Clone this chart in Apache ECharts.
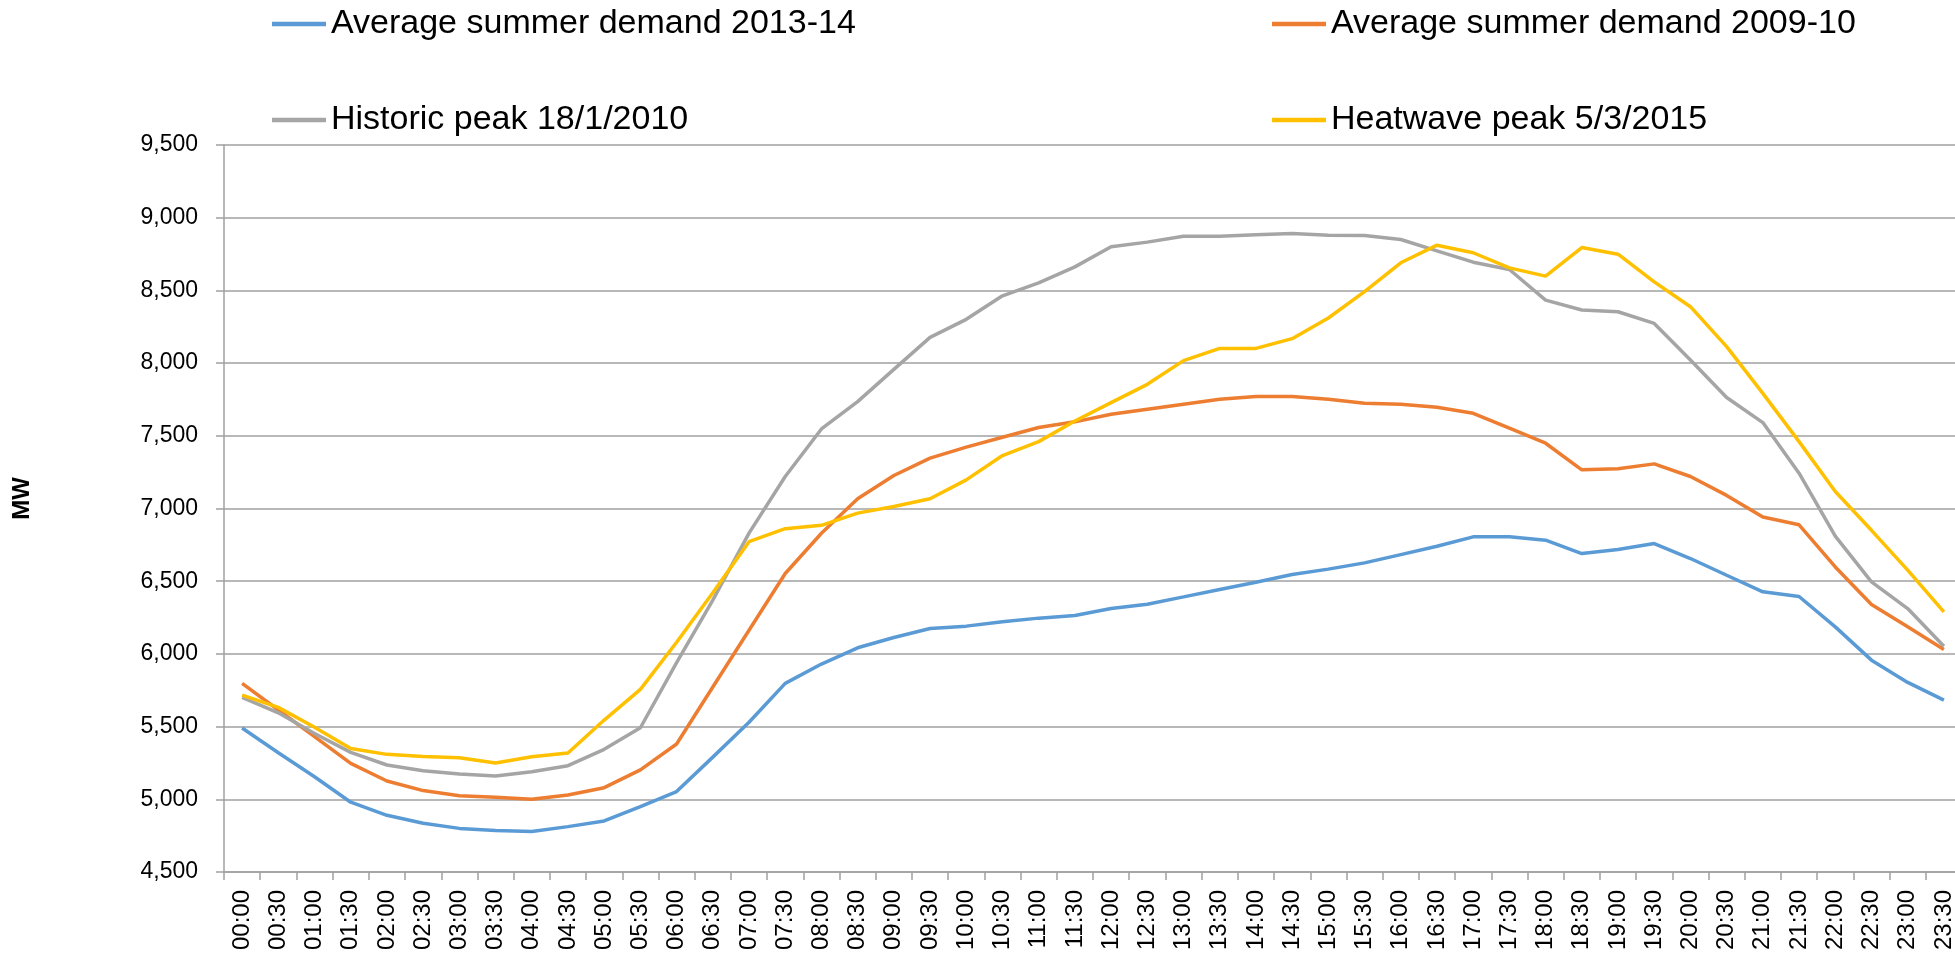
<!DOCTYPE html>
<html>
<head>
<meta charset="utf-8">
<title>Summer demand</title>
<script src="https://cdn.jsdelivr.net/npm/echarts@6/dist/echarts.min.js"></script>
<style>
	html, body { margin: 0; padding: 0; background: #fff; }
	#chartDiv { width: 1955px; height: 955px; }
</style>
</head>
<body>
<div id="chartDiv"></div>
<script>
// half-hour periods
var times = ['00:00', '00:30', '01:00', '01:30', '02:00', '02:30', '03:00', '03:30',
	'04:00', '04:30', '05:00', '05:30', '06:00', '06:30', '07:00', '07:30',
	'08:00', '08:30', '09:00', '09:30', '10:00', '10:30', '11:00', '11:30',
	'12:00', '12:30', '13:00', '13:30', '14:00', '14:30', '15:00', '15:30',
	'16:00', '16:30', '17:00', '17:30', '18:00', '18:30', '19:00', '19:30',
	'20:00', '20:30', '21:00', '21:30', '22:00', '22:30', '23:00', '23:30'];

// MW values
var avg1314 = [5490, 5320, 5155, 4980, 4890, 4835, 4800, 4785,
	4778, 4812, 4851, 4950, 5053, 5290, 5530, 5797,
	5930, 6042, 6113, 6175, 6191, 6221, 6246, 6264,
	6312, 6342, 6392, 6443, 6493, 6546, 6583, 6626,
	6683, 6740, 6805, 6805, 6782, 6690, 6718, 6759,
	6656, 6541, 6427, 6395, 6186, 5957, 5804, 5682];

var avg0910 = [5797, 5614, 5431, 5247, 5126, 5060, 5025, 5014,
	5000, 5030, 5080, 5202, 5380, 5772, 6163, 6553,
	6830, 7067, 7227, 7346, 7422, 7490, 7557, 7596,
	7648, 7683, 7717, 7751, 7770, 7770, 7751, 7724,
	7717, 7696, 7655, 7552, 7449, 7266, 7273, 7307,
	7220, 7090, 6941, 6888, 6598, 6340, 6186, 6031];

var peak2010 = [5701, 5595, 5453, 5323, 5236, 5197, 5174, 5160,
	5190, 5231, 5344, 5492, 5940, 6370, 6831, 7220,
	7547, 7735, 7957, 8177, 8301, 8463, 8552, 8662,
	8800, 8832, 8873, 8873, 8882, 8891, 8880, 8877,
	8850, 8772, 8694, 8644, 8433, 8365, 8353, 8273,
	8021, 7763, 7591, 7243, 6810, 6495, 6312, 6053];

var heat2015 = [5717, 5632, 5495, 5350, 5309, 5295, 5286, 5250,
	5293, 5318, 5545, 5756, 6080, 6420, 6772, 6861,
	6884, 6968, 7014, 7067, 7197, 7364, 7460, 7602,
	7728, 7854, 8017, 8101, 8101, 8168, 8310, 8491,
	8690, 8811, 8759, 8655, 8598, 8795, 8749, 8559,
	8388, 8113, 7792, 7460, 7117, 6850, 6576, 6289];

var seriesNames = ['Average summer demand 2013-14', 'Average summer demand 2009-10',
	'Historic peak 18/1/2010', 'Heatwave peak 5/3/2015'];
var seriesColors = ['#5B9BD5', '#ED7D31', '#A5A5A5', '#FFC000'];

//one legend per item, laid out like the original two rows
function makeLegend(name, left, top)
{
	return {
		data: [name],
		left: left,
		top: top,
		padding: 0,
		icon: 'rect',
		itemWidth: 54,
		itemHeight: 4.5,
		textStyle: {
			fontSize: 34,
			fontFamily: 'Liberation Sans',
			color: '#000',
		},
	};
}

function makeSeries(idx, values)
{
	return {
		name: seriesNames[idx],
		type: 'line',
		data: values,
		symbol: 'none',
		smooth: false,
		color: seriesColors[idx],
		lineStyle: { width: 3.5, color: seriesColors[idx] },
	};
}

var chart = echarts.init(document.getElementById('chartDiv'));
var option = {
	animation: false,
	backgroundColor: '#fff',
	legend: [
		makeLegend(seriesNames[0], 272, 7),
		makeLegend(seriesNames[1], 1272, 7),
		makeLegend(seriesNames[2], 272, 103),
		makeLegend(seriesNames[3], 1272, 103),
	],
	grid: {
		left: 224,
		top: 145,
		width: 1738,
		height: 727,
		outerBoundsMode: 'none',
	},
	xAxis: {
		type: 'category',
		data: times,
		boundaryGap: true,
		axisLine: { lineStyle: { color: '#a0a0a0', width: 1.5 } },
		axisTick: { show: true, interval: 0, length: 8, lineStyle: { color: '#a0a0a0', width: 1.5 } },
		axisLabel: {
			interval: 0,
			rotate: 90,
			margin: 18,
			fontSize: 24,
			fontFamily: 'Liberation Sans',
			color: '#000',
		},
	},
	yAxis: {
		type: 'value',
		min: 4500,
		max: 9500,
		interval: 500,
		name: 'MW',
		nameLocation: 'middle',
		nameGap: 190,
		nameTextStyle: {
			fontSize: 24,
			fontWeight: 'bold',
			fontFamily: 'Liberation Sans',
			color: '#000',
			padding: [0, 0, 0, 20],
		},
		axisLine: { show: true, lineStyle: { color: '#a0a0a0', width: 1.5 } },
		axisTick: { show: true, length: 8, lineStyle: { color: '#a0a0a0', width: 1.5 } },
		splitLine: { lineStyle: { color: '#a0a0a0', width: 1.5 } },
		axisLabel: {
			margin: 26,
			fontSize: 23,
			fontFamily: 'Liberation Sans',
			color: '#000',
			formatter: function(v) { return v.toLocaleString('en-US'); },
		},
	},
	series: [
		makeSeries(0, avg1314),
		makeSeries(1, avg0910),
		makeSeries(2, peak2010),
		makeSeries(3, heat2015),
	],
};
chart.setOption(option);
</script>
</body>
</html>
